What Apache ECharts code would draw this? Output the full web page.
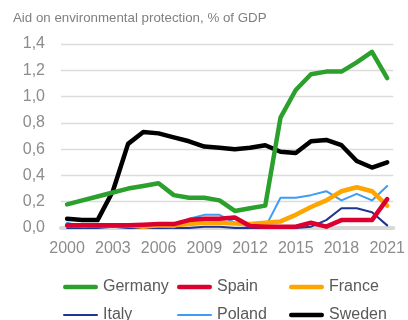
<!DOCTYPE html>
<html>
<head>
<meta charset="utf-8">
<script src="https://cdn.jsdelivr.net/npm/echarts@6/dist/echarts.min.js"></script>
<style>html,body{margin:0;padding:0;background:#fff}#c{width:408px;height:320px}</style>
</head>
<body>
<div id="c"></div>
<script>
var years = [2000,2001,2002,2003,2004,2005,2006,2007,2008,2009,2010,2011,2012,2013,2014,2015,2016,2017,2018,2019,2020,2021];
var xTickYears = [2000,2003,2006,2009,2012,2015,2018,2021];
var germany = [0.18,0.21,0.24,0.27,0.30,0.32,0.34,0.25,0.23,0.23,0.21,0.13,0.15,0.17,0.84,1.05,1.17,1.19,1.19,1.26,1.34,1.14];
var spain   = [0.02,0.02,0.02,0.02,0.02,0.025,0.03,0.03,0.06,0.07,0.07,0.08,0.015,0.01,0.01,0.01,0.04,0.01,0.06,0.06,0.06,0.22];
var france  = [0.02,0.02,0.02,0.02,0.02,0.01,0.02,0.02,0.03,0.04,0.04,0.035,0.03,0.04,0.05,0.10,0.16,0.21,0.28,0.31,0.28,0.17];
var italy   = [0.00,0.00,0.00,0.01,0.00,0.00,0.00,0.00,0.00,0.01,0.01,0.00,0.00,0.00,0.01,0.00,0.01,0.06,0.15,0.15,0.12,0.02];
var poland  = [0.04,0.01,0.02,0.03,0.01,0.01,0.01,0.005,0.07,0.10,0.10,0.04,0.01,0.005,0.23,0.23,0.25,0.28,0.21,0.26,0.21,0.32];
var sweden  = [0.07,0.06,0.06,0.28,0.64,0.73,0.72,0.69,0.66,0.62,0.61,0.60,0.61,0.63,0.58,0.57,0.66,0.67,0.63,0.51,0.46,0.50];
var titleText = 'Aid on environmental protection, % of GDP';
var legendRows = [['Germany','Spain','France'],['Italy','Poland','Sweden']];
var thinSeries = ['Italy','Poland'];

function pairs(arr){ return years.map(function(y,i){ return [y, arr[i]]; }); }
var FONT = '"Liberation Sans", Arial, sans-serif';
var THICK_ICON = 'path://M2.25,0H33.75A2.25,2.25 0 0 1 33.75,4.5H2.25A2.25,2.25 0 0 1 2.25,0Z';
var THIN_ICON = 'path://M1,0H35A1,1 0 0 1 35,2H1A1,1 0 0 1 1,0Z';
function mk(name, arr, color, w, z){
  return { name: name, type: 'line', data: pairs(arr), symbol: 'none', z: z,
    lineStyle: { color: color, width: w, cap: 'round', join: 'round' },
    itemStyle: { color: color } };
}
var colLeft = [63, 177, 289];
var rowTop = [279, 307];
var legends = [];
legendRows.forEach(function(row, r){
  row.forEach(function(name, c){
    legends.push({
      orient: 'horizontal', left: colLeft[c], top: rowTop[r], itemWidth: 35, itemHeight: 14,
      symbolKeepAspect: true, selectedMode: false, padding: 0,
      textStyle: { fontFamily: FONT, fontSize: 16, color: '#595959' },
      data: [{ name: name, icon: thinSeries.indexOf(name) >= 0 ? THIN_ICON : THICK_ICON }]
    });
  });
});
var chart = echarts.init(document.getElementById('c'), null, { renderer: 'canvas' });
chart.setOption({
  animation: false,
  title: { text: titleText, left: 13, top: 12, padding: 0,
    textStyle: { fontFamily: FONT, fontSize: 13.3, fontWeight: 'normal', color: '#7f7f7f' } },
  grid: { left: 61, right: 10, top: 44, bottom: 92, containLabel: false },
  legend: legends,
  xAxis: {
    type: 'value', min: 1999.6, max: 2021.4,
    axisLine: { show: true, lineStyle: { color: '#d9d9d9', width: 4 } },
    axisTick: { show: false }, splitLine: { show: false },
    axisLabel: { customValues: xTickYears, fontFamily: FONT, fontSize: 16, color: '#8c8c8c', margin: 13,
      formatter: function(v){ return String(v); } }
  },
  yAxis: {
    type: 'value', min: 0, max: 1.4, interval: 0.2,
    axisLine: { show: false }, axisTick: { show: false },
    splitLine: { lineStyle: { color: '#dcdcdc', width: 1.3 } },
    axisLabel: { fontFamily: FONT, fontSize: 16, color: '#8c8c8c', margin: 16,
      formatter: function(v){ return v.toFixed(1).replace('.', ','); } }
  },
  series: [
    mk('Italy', italy, '#1f3592', 2, 2),
    mk('Poland', poland, '#3d9df5', 2, 3),
    mk('France', france, '#ffa500', 4.5, 4),
    mk('Spain', spain, '#dc0030', 4.5, 5),
    mk('Sweden', sweden, '#000000', 4.5, 6),
    mk('Germany', germany, '#2ca02c', 4.5, 7)
  ]
});
</script>
</body>
</html>
